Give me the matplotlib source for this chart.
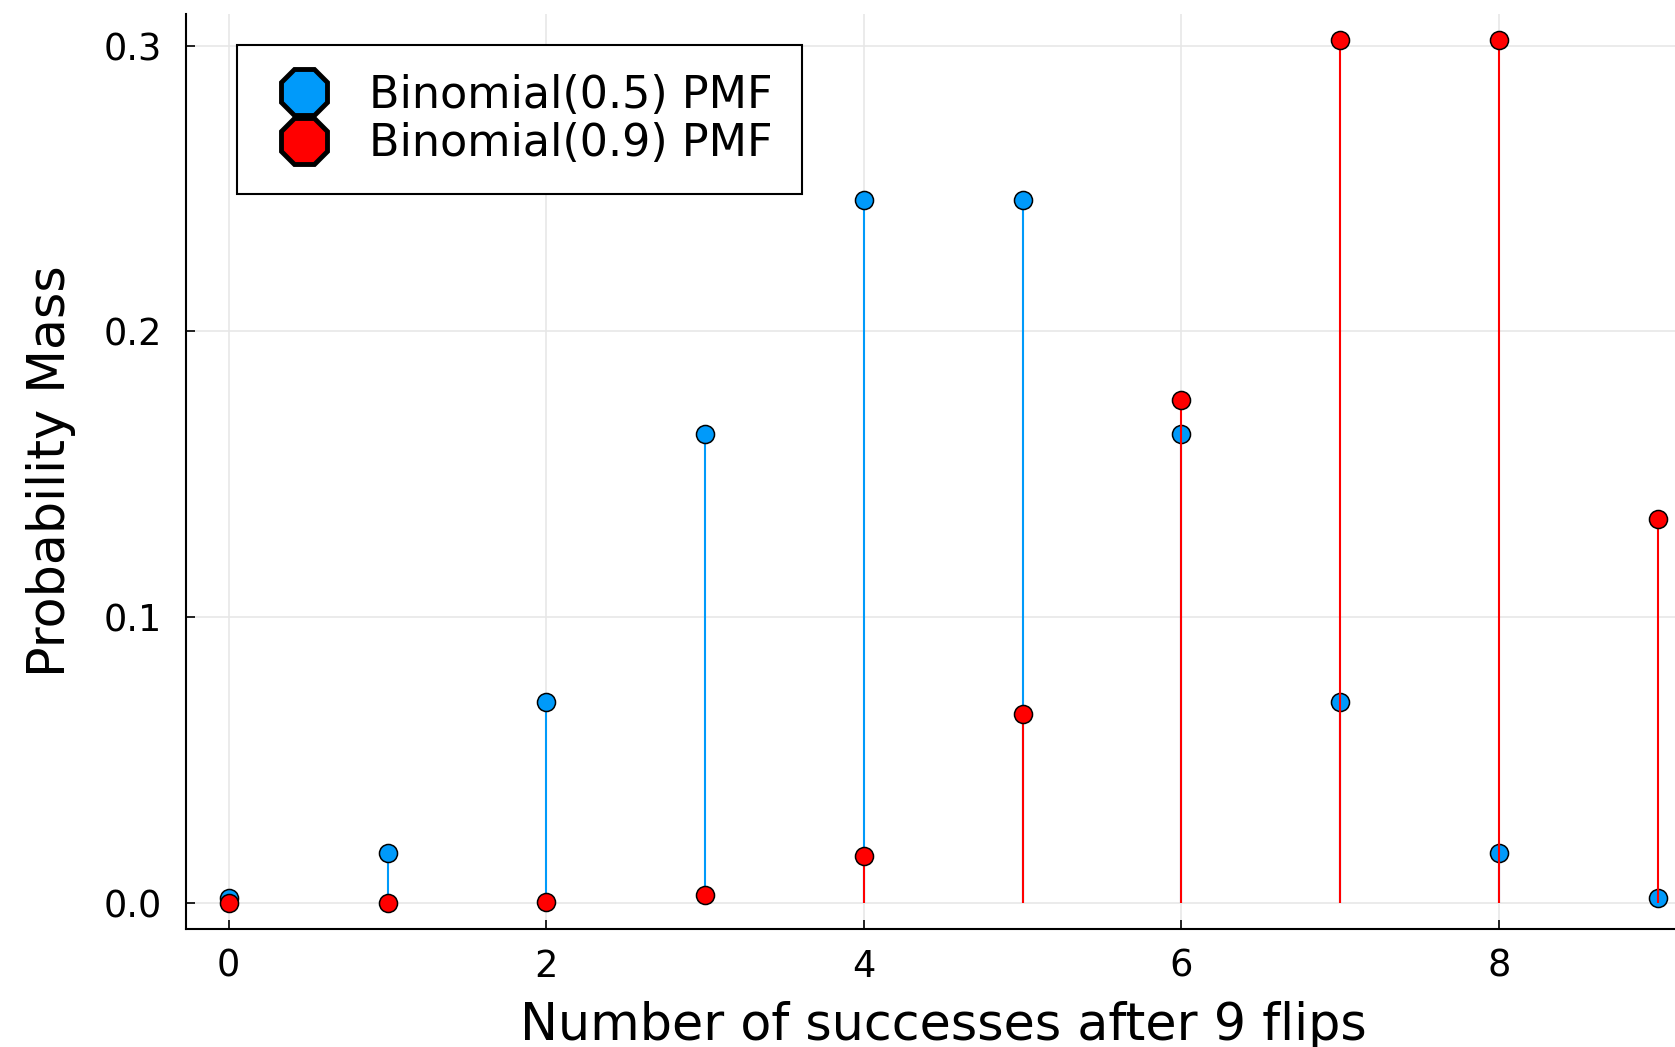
import matplotlib
matplotlib.use("Agg")
import matplotlib.pyplot as plt
from matplotlib.lines import Line2D

# Number of successes and the two probability mass functions
successes = [0, 1, 2, 3, 4, 5, 6, 7, 8, 9]
pmf_fair = [0.00195, 0.01758, 0.07031, 0.16406, 0.24609,
            0.24609, 0.16406, 0.07031, 0.01758, 0.00195]
pmf_biased = [0.0000005, 0.000018, 0.00029, 0.00275, 0.01651,
              0.06606, 0.17616, 0.30199, 0.30199, 0.13422]
series_labels = ["Binomial(0.5) PMF", "Binomial(0.9) PMF"]
series_colors = ["#009AFA", "#FF0000"]

x_ticks = [0, 2, 4, 6, 8]
y_ticks = [0.0, 0.1, 0.2, 0.3]
y_ticklabels = ["0.0", "0.1", "0.2", "0.3"]

plt.rcParams["font.family"] = ["DejaVu Sans"]

fig = plt.figure(figsize=(16.75, 10.47), dpi=100)
ax = fig.add_axes([0.111, 0.1127, 1.0152 - 0.111, 0.9866 - 0.1127])

ymax = max(max(pmf_fair), max(pmf_biased))
ax.set_xlim(-0.03 * 9, 9 + 0.03 * 9)
ax.set_ylim(-0.03 * ymax, ymax * 1.03)

z = 2
for vals, col in zip([pmf_fair, pmf_biased], series_colors):
    ax.vlines(successes, 0, vals, colors=col, linewidth=1.5, zorder=z)
    ax.plot(successes, vals, linestyle="none", marker="o", markersize=13,
            markerfacecolor=col, markeredgecolor="black",
            markeredgewidth=1.1, zorder=z + 0.5)
    z += 1

ax.grid(True, color="#e6e6e6", linewidth=1.1, zorder=0)
ax.set_axisbelow(True)

for side in ["top", "right"]:
    ax.spines[side].set_visible(False)
for side in ["left", "bottom"]:
    ax.spines[side].set_linewidth(1.5)
    ax.spines[side].set_color("black")

ax.set_xticks(x_ticks)
ax.set_yticks(y_ticks)
ax.set_yticklabels(y_ticklabels)
ax.tick_params(axis="both", direction="in", length=6.5, width=1.2,
               labelsize=26.5, colors="black")
ax.tick_params(axis="x", pad=13.5)
ax.tick_params(axis="y", pad=17)

ax.set_xlabel("Number of successes after 9 flips", fontsize=36.5, labelpad=12)
ax.set_ylabel("Probability Mass", fontsize=36.5, labelpad=20)

handles = [Line2D([], [], linestyle="none", marker="8", markersize=36,
                  markerfacecolor=c, markeredgecolor="black",
                  markeredgewidth=3.5) for c in series_colors]
leg = fig.legend(handles, series_labels, loc="upper left",
                 bbox_to_anchor=(237 / 1675, 1 - 45 / 1047),
                 borderaxespad=0, fontsize=32, frameon=True,
                 fancybox=False, framealpha=1, edgecolor="black",
                 handlelength=1.7, borderpad=0.65, handletextpad=0.62,
                 labelspacing=0.12)
leg.get_frame().set_linewidth(1.5)

fig.savefig("out.png", dpi=100)
